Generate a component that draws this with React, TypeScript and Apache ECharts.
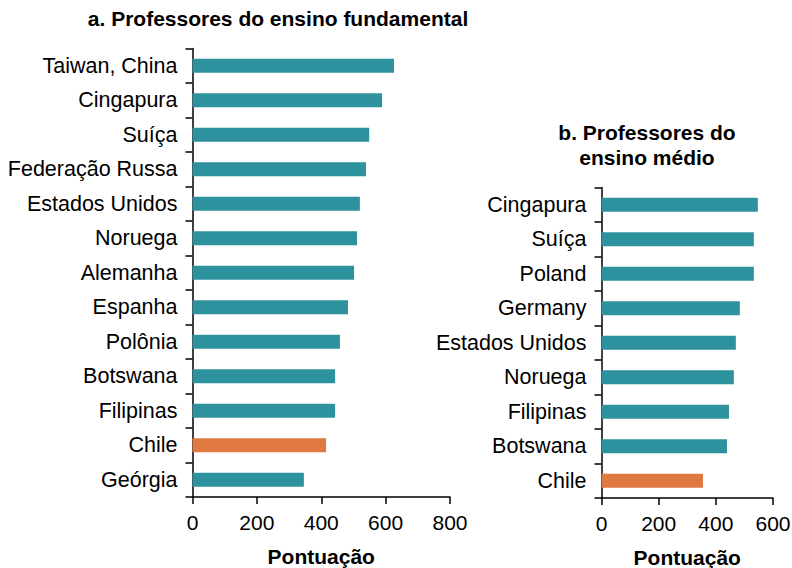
import React, { useEffect, useRef } from "react";
import * as echarts from "echarts";

const primaryCategories = [
  "Taiwan, China", "Cingapura", "Suíça", "Federação Russa", "Estados Unidos",
  "Noruega", "Alemanha", "Espanha", "Polônia", "Botswana", "Filipinas", "Chile", "Geórgia",
];
const primaryValues = [626, 589, 549, 539, 520, 511, 502, 483, 458, 443, 443, 415, 346];

const secondaryCategories = [
  "Cingapura", "Suíça", "Poland", "Germany", "Estados Unidos",
  "Noruega", "Filipinas", "Botswana", "Chile",
];
const secondaryValues = [547, 533, 533, 484, 470, 463, 446, 439, 355];

const highlightCategory = "Chile";
const TEAL = "#2E929E";
const ORANGE = "#DF7841";
const FONT = "Liberation Sans, Arial, Helvetica, sans-serif";

export default function App() {
  const ref = useRef<HTMLDivElement>(null);
  useEffect(() => {
    if (!ref.current) return;
    const chart = echarts.init(ref.current, null, { renderer: "svg" });
    const mkData = (cats: string[], vals: number[]) =>
      vals.map((v, i) => ({
        value: v,
        itemStyle: { color: cats[i] === highlightCategory ? ORANGE : TEAL },
      }));
    const yAxisBase = {
      type: "category" as const,
      inverse: true,
      axisLine: { show: true, lineStyle: { color: "#000", width: 1.5 } },
      axisTick: { show: true, length: 7, lineStyle: { color: "#000", width: 1.5 } },
      axisLabel: { color: "#000", fontSize: 21.5, fontFamily: FONT, margin: 15 },
    };
    const xAxisBase = {
      type: "value" as const,
      min: 0,
      interval: 200,
      splitLine: { show: false },
      axisLine: { show: true, lineStyle: { color: "#000", width: 1.5 } },
      axisTick: { show: true, length: 7, lineStyle: { color: "#000", width: 1.5 } },
      axisLabel: { color: "#000", fontSize: 21, fontFamily: FONT, margin: 15 },
      name: "Pontuação",
      nameLocation: "middle" as const,
      nameGap: 49,
      nameTextStyle: { color: "#000", fontSize: 21, fontWeight: "bold" as const, fontFamily: FONT },
    };
    chart.setOption({
      animation: false,
      backgroundColor: "#fff",
      title: [
        {
          text: "a. Professores do ensino fundamental",
          left: 273,
          top: 3,
          textAlign: "center",
          textStyle: { fontSize: 21, fontWeight: "bold", color: "#000", fontFamily: FONT },
        },
        {
          text: "b. Professores do\nensino médio",
          left: 642,
          top: 115,
          textAlign: "center",
          textStyle: { fontSize: 21, fontWeight: "bold", color: "#000", fontFamily: FONT, lineHeight: 25 },
        },
      ],
      grid: [
        { left: 192.5, width: 257.5, top: 48.5, height: 448.5, outerBoundsMode: "none", containLabel: false },
        { left: 601.5, width: 171.5, top: 187.5, height: 310.5, outerBoundsMode: "none", containLabel: false },
      ],
      xAxis: [
        { ...xAxisBase, gridIndex: 0, max: 800 },
        { ...xAxisBase, gridIndex: 1, max: 600 },
      ],
      yAxis: [
        { ...yAxisBase, gridIndex: 0, data: primaryCategories },
        { ...yAxisBase, gridIndex: 1, data: secondaryCategories },
      ],
      series: [
        {
          type: "bar",
          xAxisIndex: 0,
          yAxisIndex: 0,
          barWidth: 14,
          data: mkData(primaryCategories, primaryValues),
        },
        {
          type: "bar",
          xAxisIndex: 1,
          yAxisIndex: 1,
          barWidth: 14,
          data: mkData(secondaryCategories, secondaryValues),
        },
      ],
    });
    return () => chart.dispose();
  }, []);
  return <div ref={ref} style={{ width: 792, height: 568, position: "absolute", left: 0, top: 0 }} />;
}
